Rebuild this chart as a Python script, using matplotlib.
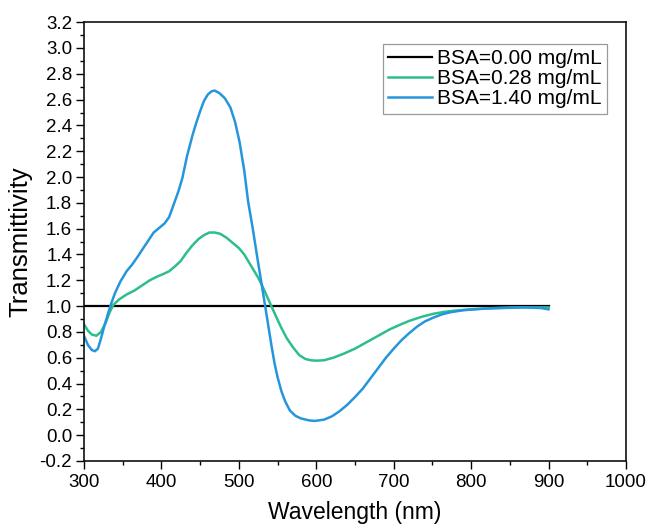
import matplotlib
matplotlib.use("Agg")
import matplotlib.pyplot as plt
from matplotlib.ticker import MultipleLocator

plt.rcParams['font.family'] = ['Liberation Sans', 'DejaVu Sans']

# transmittivity spectra for three BSA concentrations
wl_ref = [300, 900]
t_ref = [1.0, 1.0]

wl_low = [300, 305, 310, 316, 322, 328, 333, 338, 345, 355, 365, 375, 385, 395,
          403, 410, 418, 425, 432, 440, 448, 455, 462, 469, 476, 484, 492, 500,
          507, 514, 520, 525, 530, 536, 542, 548, 555, 562, 570, 578, 586, 593,
          600, 610, 622, 635, 650, 665, 680, 695, 708, 720, 735, 751, 765, 780,
          800, 830, 860, 900]
t_low = [0.86, 0.81, 0.78, 0.77, 0.80, 0.87, 0.95, 1.01, 1.05, 1.09, 1.12, 1.16,
         1.20, 1.23, 1.25, 1.27, 1.31, 1.35, 1.41, 1.47, 1.52, 1.55, 1.57, 1.57,
         1.56, 1.53, 1.49, 1.45, 1.40, 1.33, 1.27, 1.22, 1.16, 1.08, 1.00, 0.92,
         0.83, 0.75, 0.68, 0.62, 0.59, 0.58, 0.577, 0.58, 0.60, 0.63, 0.67, 0.72,
         0.77, 0.82, 0.855, 0.885, 0.915, 0.94, 0.955, 0.965, 0.975, 0.985, 0.99,
         0.99]

wl_high = [300, 305, 310, 314, 318, 322, 326, 330, 334, 340, 347, 355, 362, 369,
           380, 390, 398, 404, 410, 416, 422, 427, 433, 440, 445, 450, 455, 460,
           465, 469, 475, 482, 489, 495, 501, 507, 512, 518, 524, 530, 534, 538,
           542, 546, 550, 555, 560, 566, 573, 580, 590, 598, 610, 620, 630, 640,
           650, 660, 670, 680, 690, 700, 710, 720, 730, 740, 751, 762, 773, 790,
           816, 840, 870, 890, 900]
t_high = [0.77, 0.70, 0.66, 0.65, 0.67, 0.75, 0.84, 0.92, 1.00, 1.10, 1.19, 1.27,
          1.32, 1.38, 1.48, 1.57, 1.61, 1.64, 1.69, 1.79, 1.89, 1.99, 2.16, 2.32,
          2.42, 2.51, 2.59, 2.64, 2.665, 2.67, 2.65, 2.61, 2.54, 2.43, 2.27, 2.05,
          1.81, 1.60, 1.37, 1.15, 1.00, 0.85, 0.70, 0.56, 0.45, 0.34, 0.26, 0.19,
          0.15, 0.13, 0.115, 0.11, 0.12, 0.145, 0.185, 0.235, 0.295, 0.36, 0.44,
          0.52, 0.60, 0.67, 0.735, 0.79, 0.84, 0.88, 0.91, 0.935, 0.952, 0.968,
          0.98, 0.985, 0.99, 0.985, 0.975]

labels = ['BSA=0.00 mg/mL', 'BSA=0.28 mg/mL', 'BSA=1.40 mg/mL']
colors = ['#000000', '#2dbe8c', '#2596dc']

fig = plt.figure(figsize=(6.48, 5.28), dpi=100)
ax = fig.add_axes([0.1296, 0.127, 0.8364, 0.831])

ax.plot(wl_ref, t_ref, color=colors[0], lw=1.6, label=labels[0])
ax.plot(wl_low, t_low, color=colors[1], lw=1.8, label=labels[1])
ax.plot(wl_high, t_high, color=colors[2], lw=1.8, label=labels[2])

ax.set_xlim(300, 1000)
ax.set_ylim(-0.2, 3.2)
ax.xaxis.set_major_locator(MultipleLocator(100))
ax.xaxis.set_minor_locator(MultipleLocator(50))
ax.yaxis.set_major_locator(MultipleLocator(0.2))
ax.yaxis.set_minor_locator(MultipleLocator(0.1))
ax.yaxis.set_major_formatter(plt.FuncFormatter(lambda v, p: f'{v:.1f}'))

ax.tick_params(which='major', direction='out', length=5.5, width=1.0,
               labelsize=13.5, top=False, right=False)
ax.tick_params(axis='x', which='major', pad=4)
ax.tick_params(axis='y', which='major', pad=3)
ax.tick_params(which='minor', direction='out', length=3, width=1.0,
               top=False, right=False)
for sp in ax.spines.values():
    sp.set_linewidth(1.2)
    sp.set_color('#111111')

ax.set_xlabel('Wavelength (nm)', fontsize=16.5, labelpad=7)
ax.set_ylabel('Transmittivity', fontsize=18.5, labelpad=5)

leg = ax.legend(loc='upper right', bbox_to_anchor=(0.965, 0.95), fontsize=15,
                frameon=True, fancybox=False, borderaxespad=0, borderpad=0.25,
                labelspacing=0.05, handlelength=2.1, handletextpad=0.25)
leg.get_frame().set_edgecolor('#808080')
leg.get_frame().set_linewidth(0.9)

fig.savefig('out.png', dpi=100)
